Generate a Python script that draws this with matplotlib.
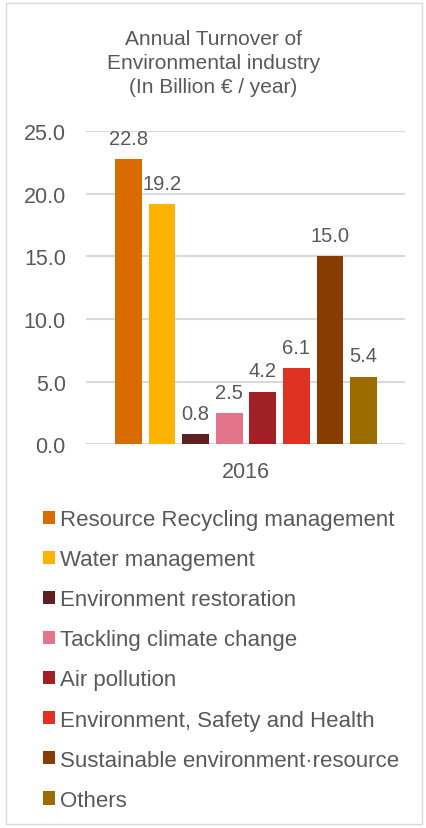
import matplotlib.pyplot as plt
from matplotlib.patches import Patch, Rectangle

plt.rcParams['font.family'] = ['Liberation Sans', 'DejaVu Sans']

categories = [
    'Resource Recycling management',
    'Water management',
    'Environment restoration',
    'Tackling climate change',
    'Air pollution',
    'Environment, Safety and Health',
    'Sustainable environment·resource',
    'Others',
]
values = [22.8, 19.2, 0.8, 2.5, 4.2, 6.1, 15.0, 5.4]
year = '2016'
colors = ['#D96C00', '#FFB300', '#5E2121', '#E3758A',
          '#A12025', '#E03222', '#873D00', '#9C6C00']

text_color = '#595959'

fig = plt.figure(figsize=(4.27, 8.29), dpi=100)
fig.patches.append(Rectangle((0.013, 0.005), 0.975, 0.99, transform=fig.transFigure,
                             fill=False, edgecolor='#d9d9d9', linewidth=1))

ax = fig.add_axes([0.2014, 0.4632, 0.747, 0.377])

x = list(range(len(values)))
bars = ax.bar(x, values, width=0.8, color=colors, zorder=3)
for b, v in zip(bars, values):
    ax.annotate(f'{v:.1f}', (b.get_x() + b.get_width() / 2, v),
                xytext=(0, 8), textcoords='offset points',
                ha='center', va='bottom', fontsize=14.5, color=text_color)

ax.set_ylim(0, 25)
ax.set_xlim(-1.26, 7 + 1.23)
ax.set_yticks([0, 5, 10, 15, 20, 25])
ax.set_yticklabels([f'{t:.1f}' for t in [0, 5, 10, 15, 20, 25]])
ax.set_xticks([3.5])
ax.set_xticklabels([year])
ax.tick_params(axis='both', length=0, labelsize=15.5, labelcolor=text_color)
ax.tick_params(axis='y', pad=14.5)
ax.tick_params(axis='x', pad=12)
ax.grid(axis='y', color='#d9d9d9', linewidth=1.5, zorder=0)
for s in ax.spines.values():
    s.set_visible(False)

fig.text(0.5, 1 - 30 / 829, 'Annual Turnover of\nEnvironmental industry\n(In Billion € / year)',
         ha='center', va='top', fontsize=15, color=text_color, linespacing=1.33)

handles = [Patch(facecolor=c, edgecolor='none') for c in colors]
leg = fig.legend(handles, categories, loc='upper left', bbox_to_anchor=(0.1, 1 - 510 / 829),
                 frameon=False, fontsize=16, handlelength=0.54, handleheight=0.54,
                 handletextpad=0.25, labelspacing=0.86, borderaxespad=0, borderpad=0)
for t in leg.get_texts():
    t.set_color(text_color)

fig.savefig('out.png', dpi=100)
